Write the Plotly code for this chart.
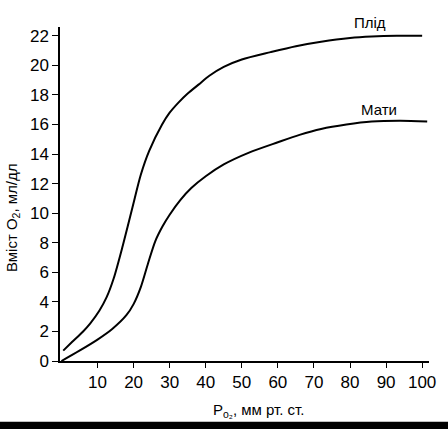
import plotly.graph_objects as go

# Po2 (mm Hg) vs O2 content (ml/dl)
fetus_po2 = [0.5, 3, 6, 8, 10.5, 12.5, 14.5, 17, 19.7, 22, 24.3, 27.9, 30, 32.5, 35, 38, 41, 45, 50, 58, 65, 72, 80, 86, 93, 100]
fetus_o2 = [0.7, 1.3, 2.0, 2.55, 3.4, 4.3, 5.6, 7.8, 10.4, 12.6, 14.2, 16.0, 16.8, 17.5, 18.1, 18.7, 19.3, 19.9, 20.4, 20.9, 21.3, 21.6, 21.85, 21.95, 22.0, 22.0]

mother_po2 = [0, 5, 10, 14, 18, 20, 22, 24, 26, 28, 30, 33, 36, 40, 45, 52, 60, 66, 72, 79, 86, 94, 101.4]
mother_o2 = [0, 0.7, 1.45, 2.15, 3.1, 3.85, 5.0, 6.6, 8.1, 9.1, 9.9, 10.9, 11.7, 12.5, 13.3, 14.1, 14.8, 15.3, 15.7, 16.0, 16.2, 16.25, 16.2]

x_ticks = [10, 20, 30, 40, 50, 60, 70, 80, 90, 100]
y_ticks = [0, 2, 4, 6, 8, 10, 12, 14, 16, 18, 20, 22]

font = "Liberation Sans, Arial, sans-serif"

fig = go.Figure()
for xs, ys in [(fetus_po2, fetus_o2), (mother_po2, mother_o2)]:
    fig.add_trace(go.Scatter(x=xs, y=ys, mode="lines",
                             line=dict(color="black", width=2, shape="spline", smoothing=0.8),
                             showlegend=False, hoverinfo="skip"))

fig.add_annotation(x=85.5, yref="paper", y=1.013, yanchor="middle", text="Плід", showarrow=False,
                   font=dict(family=font, size=15, color="black"))
fig.add_annotation(x=88, y=17.0, yanchor="middle", text="Мати", showarrow=False,
                   font=dict(family=font, size=15, color="black"))

# y title sits lower than the axis middle
fig.add_annotation(xref="paper", yref="paper", x=-0.13, y=0.428, yanchor="middle",
                   xanchor="center", text="Вміст O<sub>2</sub>, мл/дл", textangle=-90,
                   showarrow=False, font=dict(family=font, size=15, color="black"))
fig.add_annotation(xref="paper", yref="paper", x=0.54, y=-0.147, yanchor="middle",
                   xanchor="center", text="P<sub>o₂</sub>, мм рт. ст.", showarrow=False,
                   font=dict(family=font, size=15, color="black"))

# black strip along the bottom
fig.add_shape(type="rect", xref="paper", yref="paper", x0=-0.2, x1=1.1, y0=-0.21, y1=-0.182,
              fillcolor="black", line=dict(width=0), layer="above")

fig.update_xaxes(range=[-0.4, 101.9], tickvals=x_ticks, ticks="outside", ticklen=5,
                 tickcolor="black", showline=True, linecolor="black", linewidth=1.5,
                 showgrid=False, zeroline=False,
                 tickfont=dict(family=font, size=17, color="black"))
fig.update_yaxes(range=[0, 22.6], tickvals=y_ticks, ticks="outside", ticklen=6,
                 tickcolor="black", showline=True, linecolor="black", linewidth=1.5,
                 showgrid=False, zeroline=False,
                 tickfont=dict(family=font, size=17, color="black"))

fig.update_layout(width=448, height=429, margin=dict(l=60, r=17, t=27, b=68),
                  plot_bgcolor="white", paper_bgcolor="white")

# page body has an 8px margin by default
fig.write_html("out.html", config={"displayModeBar": False},
               post_script="document.body.style.margin='0';")
